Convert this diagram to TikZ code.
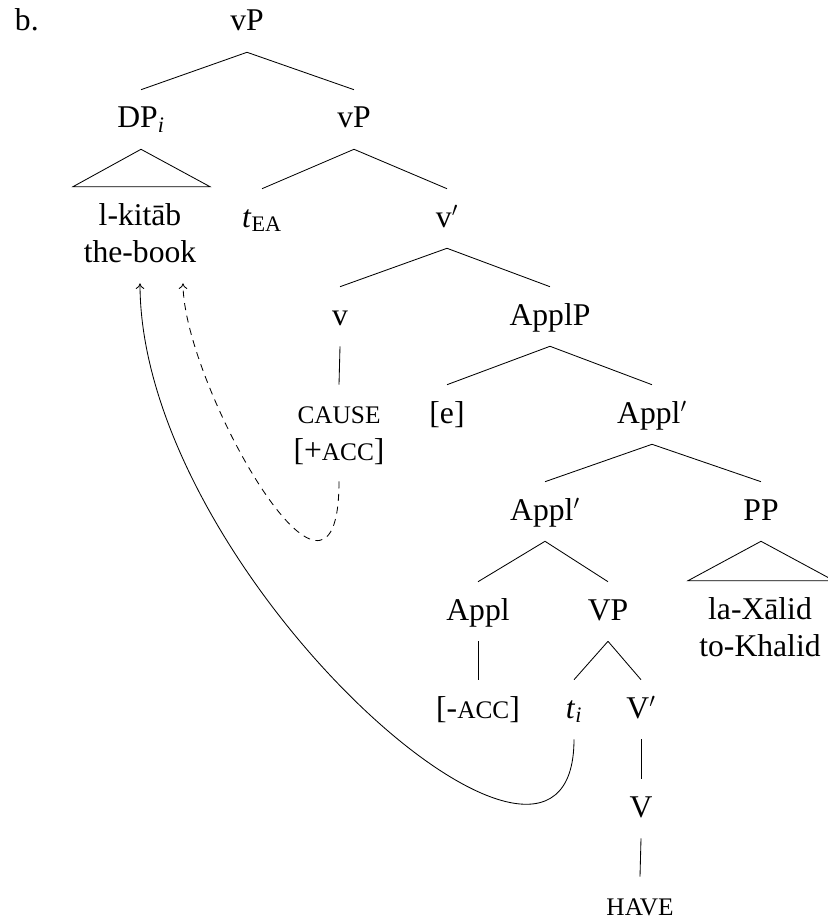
\documentclass[tikz,border=0pt]{standalone}
\usepackage{fontspec}
\setmainfont{Liberation Serif}
\usetikzlibrary{arrows.meta}
\newcommand\capsize[1]{{\fontsize{18}{26}\selectfont #1}}

\begin{document}
\begin{tikzpicture}[x=0.025cm, y=-0.025cm,
      font=\fontsize{22.5}{26}\selectfont,
      cat/.style={anchor=base, inner xsep=2pt, inner ysep=0.4cm,
                  text height=0.55cm, text depth=0.125cm},
      leaf/.style={cat, align=center, text height=1.475cm},
      branch/.style={line width=0.6pt},
      mv/.style={line width=0.6pt, -{To[length=4pt, width=6pt]}}]
    \useasboundingbox (0,0) rectangle (828,920);
    \node[anchor=base west] (ex) at (10,31) {b.};
    \node[cat] (vpa) at (247,31) {vP};
    \node[cat] (dp) at (141,128) {DP\textsubscript{\textit{i}}};
    \node[cat] (vpb) at (354,128) {vP};
    \node[leaf] (book) at (140,262) {l-kitāb\\the-book};
    \node[cat] (tea) at (262,227) {\textit{t}\textsubscript{EA}};
    \node[cat] (vbar) at (447,227) {v$'$};
    \node[cat] (v) at (340,325) {v};
    \node[cat] (applp) at (550,325) {ApplP};
    \node[leaf] (cause) at (339,460) {\capsize{CAUSE}\\{}[+\capsize{ACC}]};
    \node[cat] (e) at (447,423) {[e]};
    \node[cat] (applbara) at (652,423) {Appl$'$};
    \node[cat] (applbarb) at (545,520) {Appl$'$};
    \node[cat] (pp) at (761,520) {PP};
    \node[cat] (appl) at (478,620) {Appl};
    \node[cat] (vp) at (608,620) {VP};
    \node[leaf] (khalid) at (760,656) {la-Xālid\\to-Khalid};
    \node[cat] (acc) at (478,718) {[-\capsize{ACC}]};
    \node[cat] (ti) at (574,718) {\textit{t}\textsubscript{\textit{i}}};
    \node[cat] (vbarv) at (641,718) {V$'$};
    \node[cat] (vv) at (641,817) {V};
    \node[cat] (have) at (640,915) {\capsize{HAVE}};
    % branches
    \draw[branch] (vpa.south) -- (dp.north);
    \draw[branch] (vpa.south) -- (vpb.north);
    \draw[branch] (dp.south) -- ([xshift=-1.675cm]book.north) -- ([xshift=1.75cm]book.north) -- cycle;
    \draw[branch] (vpb.south) -- (tea.north);
    \draw[branch] (vpb.south) -- (vbar.north);
    \draw[branch] (vbar.south) -- (v.north);
    \draw[branch] (vbar.south) -- (applp.north);
    \draw[branch] (v.south) -- (cause.north);
    \draw[branch] (applp.south) -- (e.north);
    \draw[branch] (applp.south) -- (applbara.north);
    \draw[branch] (applbara.south) -- (applbarb.north);
    \draw[branch] (applbara.south) -- (pp.north);
    \draw[branch] (pp.south) -- ([xshift=-1.8cm]khalid.north) -- ([xshift=1.85cm]khalid.north) -- cycle;
    \draw[branch] (applbarb.south) -- (appl.north);
    \draw[branch] (applbarb.south) -- (vp.north);
    \draw[branch] (appl.south) -- (acc.north);
    \draw[branch] (vp.south) -- (ti.north);
    \draw[branch] (vp.south) -- (vbarv.north);
    \draw[branch] (vbarv.south) -- (vv.north);
    \draw[branch] (vv.south) -- (have.north);
    % movement
    \draw[mv] (ti.south) to[out=-90, in=-90, out distance=5.5cm, in distance=7.25cm] (book.south);
    \draw[mv, dash pattern=on 5pt off 4pt] (cause.south) to[out=-90, in=-90, out distance=4.5cm, in distance=2.5cm] ([xshift=1.075cm]book.south);
  \end{tikzpicture}
\end{document}
